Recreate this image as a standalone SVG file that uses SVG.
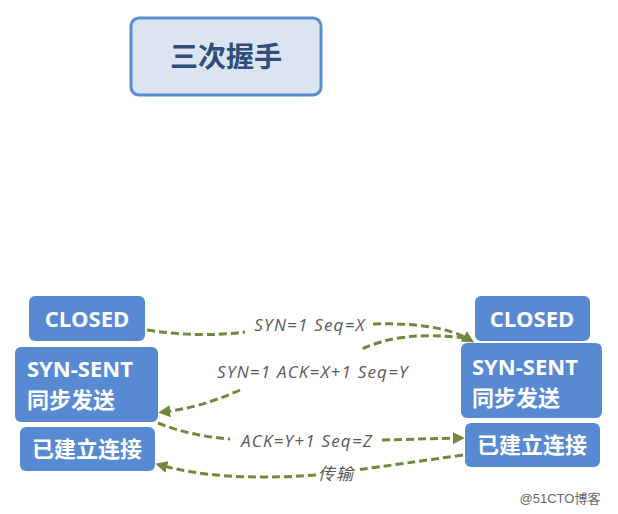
<svg xmlns="http://www.w3.org/2000/svg" width="618" height="514" viewBox="0 0 618 514">
<style>
.n{fill:#588ad3;}
.t{fill:#fff;font-family:"Open Sans","Noto Sans CJK SC",sans-serif;font-weight:bold;font-size:22px;}
.l{fill:#595959;font-family:"Open Sans","Noto Sans CJK SC",sans-serif;font-style:italic;font-size:17px;letter-spacing:1.2px;text-anchor:middle;}
.c{fill:none;stroke:#71893a;stroke-width:3;stroke-dasharray:8,4;marker-end:url(#a);}
</style>
<defs><marker id="a" viewBox="0 0 10 10" refX="6" refY="5" markerWidth="4" markerHeight="4" orient="auto"><path d="M0,0L10,5L0,10z" fill="#71893a"/></marker></defs>
<rect width="618" height="514" fill="#fff"/>
<g id="title"><rect x="131" y="18" width="190" height="77" rx="8" fill="#dce4f1" stroke="#5b8bd0" stroke-width="3"/><text x="226" y="67" text-anchor="middle" font-family="Noto Sans CJK SC,sans-serif" font-weight="bold" font-size="28" fill="#2f4e7a">三次握手</text></g>
<g id="lclosed"><rect class="n" x="29" y="296" width="116" height="45" rx="6"/><text class="t" x="87" y="327" text-anchor="middle">CLOSED</text></g>
<g id="lsyn"><rect class="n" x="15" y="347" width="143" height="75" rx="6"/><text class="t" x="27" y="377">SYN-SENT</text><text class="t" x="27" y="408">同步发送</text></g>
<g id="lest"><rect class="n" x="20" y="427" width="135" height="44" rx="6"/><text class="t" x="87" y="457" text-anchor="middle">已建立连接</text></g>
<g id="rclosed"><rect class="n" x="475" y="296" width="115" height="45" rx="6"/><text class="t" x="532" y="327" text-anchor="middle">CLOSED</text></g>
<g id="rsyn"><rect class="n" x="461" y="343" width="141" height="75" rx="6"/><text class="t" x="472" y="375">SYN-SENT</text><text class="t" x="472" y="406">同步发送</text></g>
<g id="rest"><rect class="n" x="465" y="423" width="135" height="44" rx="6"/><text class="t" x="532" y="453" text-anchor="middle">已建立连接</text></g>
<g id="connectors">
<path class="c" d="M147,330 Q200,338 245,332 M373,324 Q440,322 470,340"/>
<path class="c" d="M465,338 Q400,330 360,350 M240,390 Q200,408 163,412"/>
<path class="c" d="M158,423 Q190,436 230,439 M382,440 L460,438"/>
<path class="c" d="M463,455 Q400,464 356,470 M316,475 Q220,482 160,465"/>
</g>
<text class="l" x="310" y="331">SYN=1 Seq=X</text>
<text class="l" x="313" y="378">SYN=1 ACK=X+1 Seq=Y</text>
<text class="l" x="307" y="447">ACK=Y+1 Seq=Z</text>
<text class="l" x="336" y="480">传输</text>
<text x="560" y="503" text-anchor="middle" font-family="Liberation Sans,Noto Sans CJK SC,sans-serif" font-size="13" fill="#666">@51CTO博客</text>
</svg>
